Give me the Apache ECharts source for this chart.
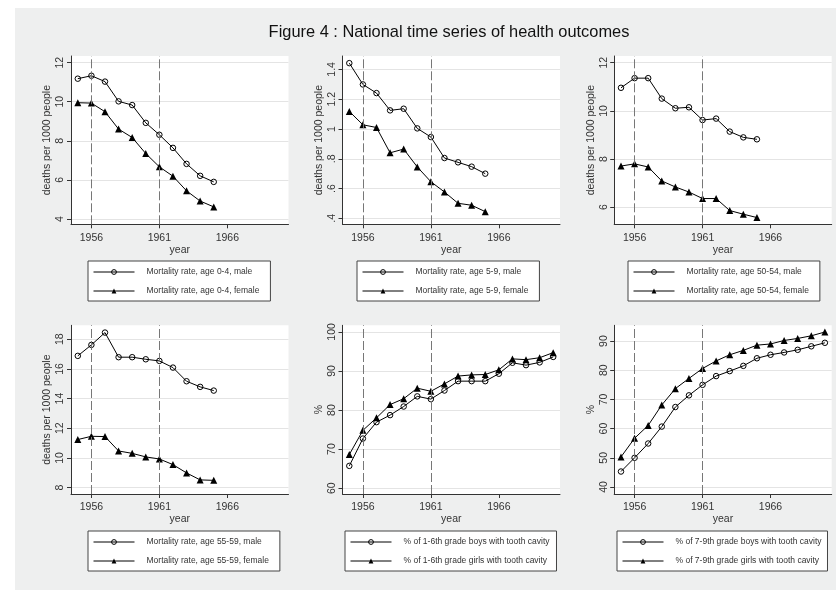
<!DOCTYPE html>
<html>
<head>
<meta charset="utf-8">
<script src="https://cdn.jsdelivr.net/npm/echarts@6/dist/echarts.min.js"></script>
<style>html,body{margin:0;padding:0;background:#fff}#c{width:836px;height:590px}</style>
</head>
<body>
<div id="c"></div>
<script>
// ---------- data ----------
const yearsA = [1955,1956,1957,1958,1959,1960,1961,1962,1963,1964,1965];
const yearsB = [1955,1956,1957,1958,1959,1960,1961,1962,1963,1964,1965,1966,1967,1968,1969,1970];

const mort04Male   = [11.18,11.33,11.03,10.02,9.83,8.92,8.31,7.64,6.82,6.21,5.90];
const mort04Female = [9.95,9.93,9.49,8.60,8.17,7.35,6.67,6.19,5.44,4.92,4.62];
const mort59Male   = [1.442,1.299,1.241,1.125,1.136,1.004,0.946,0.805,0.776,0.747,0.700];
const mort59Female = [1.118,1.028,1.010,0.840,0.865,0.745,0.646,0.577,0.501,0.488,0.445];
const mort5054Male   = [10.96,11.36,11.36,10.51,10.11,10.15,9.62,9.68,9.14,8.90,8.82];
const mort5054Female = [7.71,7.80,7.67,7.09,6.84,6.63,6.36,6.36,5.86,5.71,5.57];
const mort5559Male   = [16.88,17.62,18.45,16.79,16.79,16.65,16.54,16.09,15.17,14.79,14.54];
const mort5559Female = [11.24,11.46,11.44,10.47,10.31,10.07,9.93,9.55,8.99,8.52,8.49];
const cav16Boys  = [65.7,72.7,76.9,78.7,80.9,83.5,82.8,85.0,87.4,87.4,87.4,89.3,92.1,91.5,92.2,93.6];
const cav16Girls = [68.6,74.8,78.0,81.4,82.9,85.6,84.8,86.7,88.7,89.0,89.1,90.3,93.1,92.9,93.4,94.7];
const cav79Boys  = [45.3,50.0,54.9,60.7,67.4,71.4,75.0,78.0,79.7,81.5,84.1,85.3,86.1,87.0,88.2,89.4];
const cav79Girls = [50.3,56.7,61.1,68.1,73.7,77.2,80.6,83.2,85.3,86.8,88.6,89.0,90.2,90.9,91.8,93.1];

const xTicks = [1956,1961,1966];
const refYears = [1956,1961];
const yTicks04   = [4,6,8,10,12];
const yTicks59   = [0.4,0.6,0.8,1,1.2,1.4];
const yTicks5054 = [6,8,10,12];
const yTicks5559 = [8,10,12,14,16,18];
const yTicks16   = [60,70,80,90,100];
const yTicks79   = [40,50,60,70,80,90];

const title = 'Figure 4 : National time series of health outcomes';
const deathsLabel = 'deaths per 1000 people';
const pctLabel = '%';
const xLabel = 'year';

const panels = [
  {years: yearsA, a: mort04Male, b: mort04Female, na: 'Mortality rate, age 0-4, male', nb: 'Mortality rate, age 0-4, female', ticks: yTicks04, yname: deathsLabel},
  {years: yearsA, a: mort59Male, b: mort59Female, na: 'Mortality rate, age 5-9, male', nb: 'Mortality rate, age 5-9, female', ticks: yTicks59, yname: deathsLabel},
  {years: yearsA, a: mort5054Male, b: mort5054Female, na: 'Mortality rate, age 50-54, male', nb: 'Mortality rate, age 50-54, female', ticks: yTicks5054, yname: deathsLabel},
  {years: yearsA, a: mort5559Male, b: mort5559Female, na: 'Mortality rate, age 55-59, male', nb: 'Mortality rate, age 55-59, female', ticks: yTicks5559, yname: deathsLabel},
  {years: yearsB, a: cav16Boys, b: cav16Girls, na: '% of 1-6th grade boys with tooth cavity', nb: '% of 1-6th grade girls with tooth cavity', ticks: yTicks16, yname: pctLabel},
  {years: yearsB, a: cav79Boys, b: cav79Girls, na: '% of 7-9th grade boys with tooth cavity', nb: '% of 7-9th grade girls with tooth cavity', ticks: yTicks79, yname: pctLabel}
];

// ---------- layout / style ----------
const FONT = 'Liberation Sans, Arial, Helvetica, sans-serif';
const lefts = [71, 342.5, 614.2];
const tops = [56, 325.3];
const heights = [168.3, 168.7];
const W = 217.5;
const yRanges = [[3.73,12.34],[0.36,1.49],[5.29,12.28],[7.57,18.94],[58.5,101.7],[37.6,95.4]];
const legendLefts = [88, 357, 628, 88, 345, 617];
const legendTops = [261, 261, 261, 531, 531, 531];
const legendRightPad = [11, 11, 11, 11, 7, 6];

const grids = [], xAxes = [], yAxes = [], series = [], legends = [];
panels.forEach((p, i) => {
  const col = i % 3, row = Math.floor(i / 3);
  grids.push({left: lefts[col], top: tops[row], width: W, height: heights[row],
    show: true, backgroundColor: '#fff', borderWidth: 0, containLabel: false});
  xAxes.push({type: 'value', gridIndex: i, min: 1954.5, max: 1970.5,
    name: xLabel, nameLocation: 'middle', nameGap: 19,
    nameTextStyle: {fontFamily: FONT, fontSize: 10.5, color: '#333'},
    axisLine: {show: true, onZero: false, lineStyle: {color: '#333', width: 1}},
    axisTick: {show: true, length: 4, lineStyle: {color: '#333'}, customValues: xTicks},
    axisLabel: {fontFamily: FONT, fontSize: 10.5, color: '#333', margin: 8, customValues: xTicks,
      formatter: v => String(Math.round(v))},
    splitLine: {show: false}});
  yAxes.push({type: 'value', gridIndex: i, min: yRanges[i][0], max: yRanges[i][1],
    name: p.yname, nameLocation: 'middle', nameGap: 18,
    nameTextStyle: {fontFamily: FONT, fontSize: 10.5, color: '#333'},
    axisLine: {show: true, onZero: false, lineStyle: {color: '#333', width: 1}},
    axisTick: {show: true, length: 4, lineStyle: {color: '#333'}, customValues: p.ticks},
    axisLabel: {fontFamily: FONT, fontSize: 10.5, color: '#333', margin: 5, rotate: 90,
      customValues: p.ticks,
      formatter: v => String(+v.toFixed(4)).replace(/^0\./, '.')},
    splitLine: {show: true, lineStyle: {color: '#e4e4e4', width: 1}, customValues: p.ticks}});
  const common = {type: 'line', xAxisIndex: i, yAxisIndex: i, animation: false, silent: true,
    lineStyle: {color: '#000', width: 1}};
  series.push(Object.assign({}, common, {
    name: p.na, data: p.years.map((y, k) => [y, p.a[k]]),
    symbol: 'circle', symbolSize: 5.5,
    itemStyle: {color: 'rgba(0,0,0,0)', borderColor: '#000', borderWidth: 1},
    markLine: {silent: true, symbol: 'none', animation: false, label: {show: false},
      lineStyle: {color: '#777', width: 1, type: [9, 3]},
      data: refYears.map(y => ({xAxis: y}))}
  }));
  series.push(Object.assign({}, common, {
    name: p.nb, data: p.years.map((y, k) => [y, p.b[k]]),
    symbol: 'triangle', symbolSize: 7,
    itemStyle: {color: '#000', borderWidth: 0}
  }));
  legends.push({data: [p.na, p.nb], orient: 'vertical', left: legendLefts[i], top: legendTops[i],
    padding: [6, legendRightPad[i], 5, 5], itemWidth: 41, itemHeight: 6, itemGap: 9,
    backgroundColor: '#fff', borderColor: '#444', borderWidth: 1, borderRadius: 0,
    selectedMode: false,
    lineStyle: {width: 1, color: '#000'},
    itemStyle: {borderWidth: 1},
    textStyle: {fontFamily: FONT, fontSize: 8.5, color: '#333', lineHeight: 10, padding: [0, 0, 0, 7]}});
});

const chart = echarts.init(document.getElementById('c'), null, {renderer: 'canvas'});
chart.setOption({
  backgroundColor: '#fff',
  animation: false,
  graphic: [{type: 'rect', z: -10, silent: true, shape: {x: 15, y: 8, width: 821, height: 582}, style: {fill: '#eeefef'}}],
  title: {text: title, left: 449, top: 24, padding: 0, textAlign: 'center',
    textStyle: {fontFamily: FONT, fontSize: 16.4, fontWeight: 'normal', color: '#111'}},
  grid: grids, xAxis: xAxes, yAxis: yAxes, series: series, legend: legends
});
</script>
</body>
</html>
